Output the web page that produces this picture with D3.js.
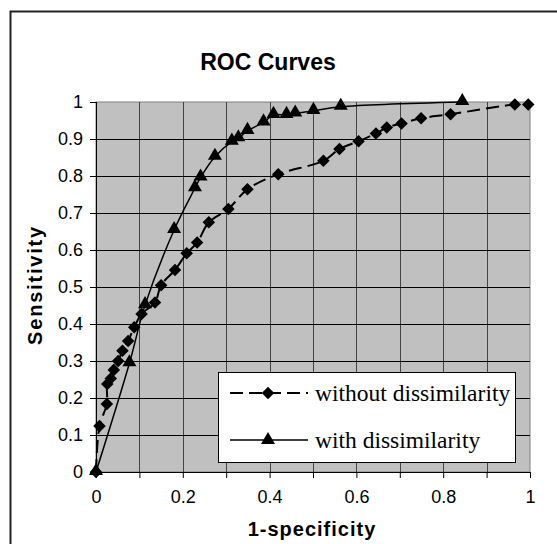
<!DOCTYPE html>
<html>
<head>
<meta charset="utf-8">
<script src="https://cdn.jsdelivr.net/npm/d3@7"></script>
<style>
  body { margin: 0; background: #fff; }
  svg { display: block; }
  .tick text { font-family: Arial, "Liberation Sans", sans-serif; font-size: 18px; fill: #000; }
</style>
</head>
<body>
<div id="chart"></div>
<script>
// ROC points: 1-specificity / sensitivity
const withoutX = [0, 0.008, 0.025, 0.026, 0.034, 0.041, 0.051, 0.061, 0.074, 0.088, 0.105, 0.136, 0.150, 0.182, 0.209, 0.233, 0.260, 0.305, 0.349, 0.420, 0.524, 0.561, 0.605, 0.645, 0.670, 0.704, 0.749, 0.817, 0.965, 0.996];
const withoutY = [0, 0.124, 0.184, 0.238, 0.253, 0.276, 0.300, 0.328, 0.354, 0.391, 0.427, 0.458, 0.505, 0.546, 0.591, 0.620, 0.675, 0.711, 0.764, 0.805, 0.841, 0.873, 0.894, 0.915, 0.931, 0.942, 0.956, 0.967, 0.993, 0.993];

const withX = [0, 0.077, 0.113, 0.180, 0.228, 0.241, 0.274, 0.313, 0.328, 0.349, 0.386, 0.409, 0.439, 0.459, 0.501, 0.564, 0.844];
const withY = [0, 0.294, 0.451, 0.654, 0.767, 0.796, 0.852, 0.893, 0.902, 0.922, 0.945, 0.965, 0.965, 0.969, 0.976, 0.987, 1.0];

const seriesNames = ["without dissimilarity", "with dissimilarity"];
const yTicks = d3.range(0, 11).map(d => d / 10);
const xTicks = d3.range(0, 11).map(d => d / 10);
const xLabels = [0, 0.2, 0.4, 0.6, 0.8, 1];

const width = 557, height = 544;
const plot = {left: 96, right: 530, top: 102, bottom: 472};

const svg = d3.select("#chart").append("svg")
  .attr("width", width)
  .attr("height", height);

// outer chart frame (runs off the right and bottom of the picture)
svg.append("rect")
  .attr("x", 10.5).attr("y", 11.5)
  .attr("width", 700).attr("height", 700)
  .attr("fill", "none")
  .attr("stroke", "#222")
  .attr("stroke-width", 2);

const x = d3.scaleLinear().domain([0, 1]).range([plot.left, plot.right]);
const y = d3.scaleLinear().domain([0, 1]).range([plot.bottom, plot.top]);

// plot area
svg.append("rect")
  .attr("x", plot.left).attr("y", plot.top)
  .attr("width", plot.right - plot.left).attr("height", plot.bottom - plot.top)
  .attr("fill", "#c0c0c0")
  .attr("stroke", "#808080");

// grid
svg.append("g").selectAll("line")
  .data(xTicks.filter(d => d > 0 && d < 1))
  .enter().append("line")
  .attr("x1", d => Math.round(x(d)) + 0.5).attr("x2", d => Math.round(x(d)) + 0.5)
  .attr("y1", plot.top).attr("y2", plot.bottom)
  .attr("stroke", "#444");

svg.append("g").selectAll("line")
  .data(yTicks.filter(d => d > 0 && d < 1))
  .enter().append("line")
  .attr("x1", plot.left).attr("x2", plot.right)
  .attr("y1", d => Math.round(y(d)) + 0.5).attr("y2", d => Math.round(y(d)) + 0.5)
  .attr("stroke", "#000");

// axes
const yAxis = d3.axisLeft(y)
  .tickValues(yTicks)
  .tickSize(6)
  .tickPadding(7)
  .tickFormat(d => d3.format("")(+d.toFixed(1)));
const yAxisGroup = svg.append("g")
  .attr("transform", `translate(${plot.left},0)`)
  .call(yAxis);
yAxisGroup.select(".domain").remove();
yAxisGroup.selectAll(".tick line").attr("stroke", "#000");

const xAxis = d3.axisBottom(x)
  .tickValues(xTicks)
  .tickSize(6)
  .tickPadding(12)
  .tickFormat(d => xLabels.some(v => Math.abs(v - d) < 1e-9) ? d3.format("")(+d.toFixed(1)) : "");
const xAxisGroup = svg.append("g")
  .attr("transform", `translate(0,${plot.bottom})`)
  .call(xAxis);
xAxisGroup.select(".domain").remove();
xAxisGroup.selectAll(".tick line").attr("stroke", "#000");

svg.append("line")
  .attr("x1", plot.left + 0.5).attr("x2", plot.left + 0.5)
  .attr("y1", plot.top).attr("y2", plot.bottom)
  .attr("stroke", "#000");
svg.append("line")
  .attr("x1", plot.left).attr("x2", plot.right)
  .attr("y1", plot.bottom + 0.5).attr("y2", plot.bottom + 0.5)
  .attr("stroke", "#000");

// lines
const lineGen = d3.line()
  .x(d => x(d[0]))
  .y(d => y(d[1]))
  .curve(d3.curveCatmullRom.alpha(0.5));

const withoutData = d3.zip(withoutX, withoutY);
const withData = d3.zip(withX, withY);

svg.append("path")
  .datum(withoutData)
  .attr("d", lineGen)
  .attr("fill", "none")
  .attr("stroke", "#000")
  .attr("stroke-width", 2)
  .attr("stroke-dasharray", "13,6");

svg.append("path")
  .datum(withData)
  .attr("d", lineGen)
  .attr("fill", "none")
  .attr("stroke", "#000")
  .attr("stroke-width", 1.5);

const diamond = d3.symbol().type(d3.symbolDiamond2).size(100);
const triangle = d3.symbol().type(d3.symbolTriangle).size(85);

svg.append("g").selectAll("path")
  .data(withoutData)
  .enter().append("path")
  .attr("d", diamond)
  .attr("transform", d => `translate(${x(d[0])},${y(d[1])})`)
  .attr("fill", "#000");

svg.append("g").selectAll("path")
  .data(withData)
  .enter().append("path")
  .attr("d", triangle)
  .attr("transform", d => `translate(${x(d[0])},${y(d[1]) - 1})`)
  .attr("fill", "#000");

// legend
const legend = svg.append("g");
legend.append("rect")
  .attr("x", 218.5).attr("y", 372.5)
  .attr("width", 297).attr("height", 90)
  .attr("fill", "#fff")
  .attr("stroke", "#000");

const legendRows = [
  {name: seriesNames[0], y: 393, dash: "13,6", width: 2, mark: diamond},
  {name: seriesNames[1], y: 440, dash: null, width: 1.5, mark: triangle}
];
legendRows.forEach(r => {
  legend.append("line")
    .attr("x1", 230).attr("x2", 308)
    .attr("y1", r.y).attr("y2", r.y)
    .attr("stroke", "#000")
    .attr("stroke-width", r.width)
    .attr("stroke-dasharray", r.dash);
  legend.append("path")
    .attr("d", r.mark)
    .attr("transform", `translate(268,${r.y})`)
    .attr("fill", "#000");
  legend.append("text")
    .attr("x", 315).attr("y", r.y)
    .attr("dy", "0.33em")
    .style("font-family", "'Times New Roman', 'Liberation Serif', serif")
    .style("font-size", "23.5px")
    .text(r.name);
});

// titles
svg.append("text")
  .attr("x", 268).attr("y", 70)
  .attr("text-anchor", "middle")
  .style("font-family", "Arial, 'Liberation Sans', sans-serif")
  .style("font-weight", "bold")
  .style("font-size", "23px")
  .text("ROC Curves");

svg.append("text")
  .attr("x", 312).attr("y", 536)
  .attr("text-anchor", "middle")
  .style("font-family", "Arial, 'Liberation Sans', sans-serif")
  .style("font-weight", "bold")
  .style("font-size", "20px")
  .style("letter-spacing", "1px")
  .text("1-specificity");

svg.append("text")
  .attr("transform", `translate(42,285) rotate(-90)`)
  .attr("text-anchor", "middle")
  .style("font-family", "Arial, 'Liberation Sans', sans-serif")
  .style("font-weight", "bold")
  .style("font-size", "20px")
  .style("letter-spacing", "1.8px")
  .text("Sensitivity");
</script>
</body>
</html>
